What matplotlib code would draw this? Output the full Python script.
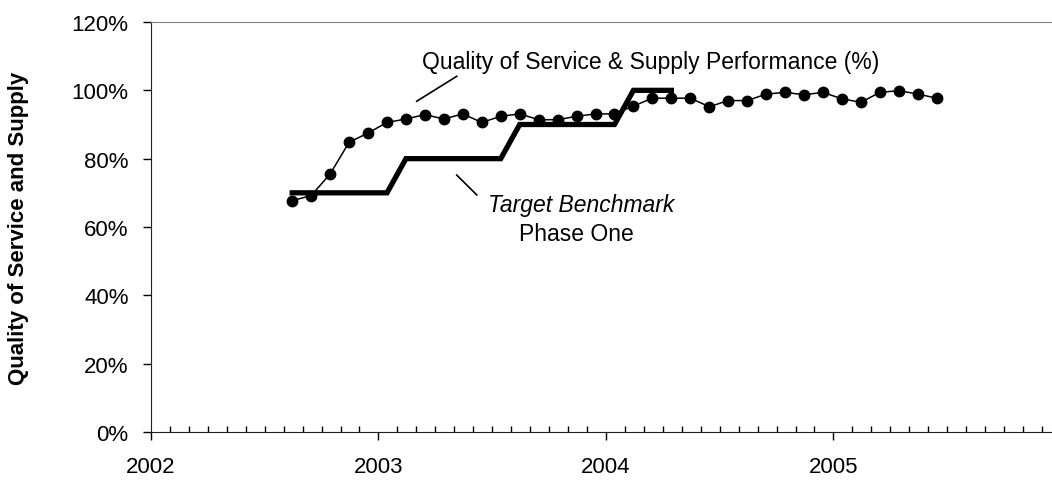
import numpy as np
import pandas as pd
import matplotlib
matplotlib.use('Agg')
import matplotlib.pyplot as plt
from matplotlib.ticker import MultipleLocator, FuncFormatter

plt.rcParams['font.family'] = ['Liberation Sans', 'DejaVu Sans']

# monthly quality of service & supply performance (%), Aug 2002 - Jun 2005
perf_months = pd.date_range('2002-08-01', '2005-06-01', freq='MS')
perf_values = [67.7, 69.2, 75.5, 84.8, 87.5, 90.6, 91.6, 92.9, 91.6, 93.1,
               90.6, 92.4, 93.1, 91.4, 91.4, 92.4, 93.1, 93.1, 95.4, 97.7,
               97.7, 97.7, 95.2, 97.0, 97.0, 98.9, 99.4, 98.7, 99.4, 97.5,
               96.5, 99.4, 99.9, 98.9, 97.7]

# target benchmark, phase one, Aug 2002 - Apr 2004
target_months = pd.date_range('2002-08-01', '2004-04-01', freq='MS')
target_values = [70] * 6 + [80] * 6 + [90] * 6 + [100] * 3

year_ticks = [2002, 2003, 2004, 2005]


def to_year(d):
    # mid-month as decimal year
    return d.year + (d.month - 1 + 0.45) / 12


fig = plt.figure(figsize=(10.52, 4.81), dpi=100)
ax = fig.add_axes([0.1435, 0.0998, 0.8650, 0.8524])

ax.plot(to_year(target_months), target_values, color='black', lw=3.8,
        solid_joinstyle='miter', zorder=2)
ax.plot(to_year(perf_months), perf_values, color='black', lw=1.1,
        marker='o', markersize=7.5, zorder=3)

ax.set_xlim(2002, 2006)
ax.set_ylim(0, 120)
ax.set_xticks(year_ticks)
ax.xaxis.set_minor_locator(MultipleLocator(1 / 12))
ax.yaxis.set_major_locator(MultipleLocator(20))
ax.yaxis.set_major_formatter(FuncFormatter(lambda v, p: f'{v:.0f}%'))

ax.spines['right'].set_visible(False)
ax.spines['top'].set_color('#808080')
ax.spines['left'].set_color('#222222')
ax.spines['bottom'].set_color('#222222')
ax.tick_params(axis='x', which='major', direction='out', length=6, width=1,
               pad=11, labelsize=16)
ax.tick_params(axis='x', which='minor', direction='in', length=4.5, width=1)
ax.tick_params(axis='y', direction='out', length=6, width=1, pad=10,
               labelsize=16)

ax.set_ylabel('Quality of Service and Supply', fontsize=16, fontweight='bold')
ax.yaxis.set_label_coords(-0.134, 0.5)

# annotations
ax.text(2004.198, 106.5, 'Quality of Service & Supply Performance (%)',
        fontsize=16.5, ha='center', va='baseline')
ax.plot([2003.168, 2003.344], [96.8, 104.1], color='black', lw=1.2)
ax.text(2003.89, 64.8, 'Target Benchmark', fontsize=16.5, style='italic',
        ha='center', va='baseline')
ax.text(2003.87, 56.3, 'Phase One', fontsize=16.5, ha='center',
        va='baseline')
ax.plot([2003.344, 2003.432], [75.2, 69.4], color='black', lw=1.2)

fig.savefig('out.png', dpi=100)
